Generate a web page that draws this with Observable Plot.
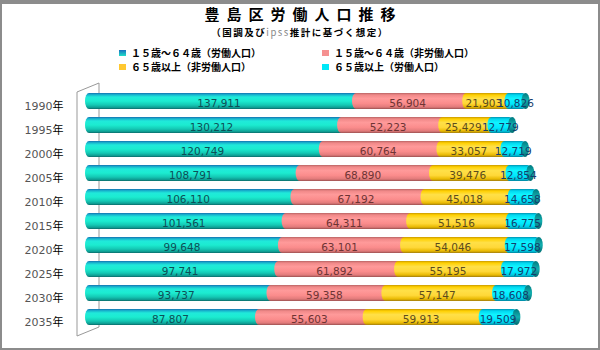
<!DOCTYPE html>
<html><head><meta charset="utf-8">
<script src="https://cdn.jsdelivr.net/npm/d3@7"></script>
<script src="https://cdn.jsdelivr.net/npm/@observablehq/plot@0.6"></script>
<style>
body{margin:0;background:#fff;}
#wrap{position:relative;width:600px;height:350px;overflow:hidden;font-family:"Noto Sans CJK JP","Noto Sans",sans-serif;color:#000;}
#frame{position:absolute;left:0;top:0;width:600px;height:350px;box-sizing:border-box;border-style:solid;border-color:#8c8c8c;border-width:4px 2px 2px 2px;pointer-events:none;}
#head{position:relative;height:76px;}
.title{position:absolute;top:6px;left:0;width:600px;text-align:center;font-size:15px;font-weight:bold;letter-spacing:7px;padding-left:7px;box-sizing:border-box;line-height:16px;}
.sub{position:absolute;top:26.5px;left:0;width:600px;text-align:center;font-size:9.5px;font-weight:bold;letter-spacing:1.5px;line-height:11px;}
.sub .ip{color:#888;font-weight:normal;}
.leg{position:absolute;font-size:10px;font-weight:bold;line-height:12px;display:flex;align-items:center;white-space:nowrap;}
.sw{width:7px;height:6px;margin-right:5px;}
</style>
</head>
<body>
<div id="wrap">
  <div id="head">
    <div class="title" id="title"></div>
    <div class="sub" id="sub"></div>
    <div id="legend"></div>
  </div>
  <div id="chart"></div>
  <div id="frame"></div>
</div>
<script>
// ---- data ----
const titleText = "豊島区労働人口推移";
const subtitleParts = ["（国調及び", "ipss", "推計に基づく想定）"];
const years = ["1990","1995","2000","2005","2010","2015","2020","2025","2030","2035"];
const seriesNames = ["１５歳～６４歳（労働人口）","１５歳～６４歳（非労働人口）","６５歳以上（非労働人口）","６５歳以上（労働人口）"];
const labor1564    = [137911,130212,120749,108791,106110,101561,99648,97741,93737,87807];
const nonlabor1564 = [56904,52223,60764,68890,67192,64311,63101,61892,59358,55603];
const nonlabor65   = [21903,25429,33057,39476,45018,51516,54046,55195,57147,59913];
const labor65      = [10826,12779,12719,12854,14658,16775,17598,17972,18608,19509];
const yearSuffix = "年";

// ---- styles ----
const gradIds = ["gTeal","gPink","gYellow","gCyan"];
const labelColors = ["#0d4f57","#6e3434","#5c4c1c","#123e6e"];
const legendSwatch = [
  "linear-gradient(#1a6fc0,#1fe0c8)",
  "#f59090",
  "#ffc830",
  "#00e8f8"
];

// ---- header ----
document.getElementById("title").textContent = titleText;
const sub = document.getElementById("sub");
sub.innerHTML = "";
subtitleParts.forEach((t,i)=>{const s=document.createElement("span"); s.textContent=t; if(i===1) s.className="ip"; sub.appendChild(s);});
const legPos = [[119,47],[322,47],[119,61],[322,61]];
const leg = document.getElementById("legend");
seriesNames.forEach((n,i)=>{
  const d = document.createElement("div");
  d.className="leg"; d.style.left=legPos[i][0]+"px"; d.style.top=legPos[i][1]+"px";
  const sw=document.createElement("span"); sw.className="sw"; sw.style.background=legendSwatch[i];
  const tx=document.createElement("span"); tx.textContent=n;
  d.appendChild(sw); d.appendChild(tx); leg.appendChild(d);
});

// ---- table ----
const segs = [];
const totals = [];
years.forEach((yr,i)=>{
  const vals=[labor1564[i],nonlabor1564[i],nonlabor65[i],labor65[i]];
  let acc=0;
  vals.forEach((v,k)=>{segs.push({year:yr,series:k,x1:acc,x2:acc+v,value:v});acc+=v;});
  totals.push({year:yr,total:acc});
});

const defsMark = () => {
  const g = document.createElementNS("http://www.w3.org/2000/svg","defs");
  g.innerHTML = `
  <linearGradient id="gTeal" x1="0" y1="0" x2="0" y2="1">
    <stop offset="0" stop-color="#1570b0"/><stop offset="0.1" stop-color="#18b0cc"/>
    <stop offset="0.25" stop-color="#20eada"/><stop offset="0.5" stop-color="#1cecd0"/>
    <stop offset="0.75" stop-color="#14c8b4"/><stop offset="0.92" stop-color="#0e9a90"/>
    <stop offset="1" stop-color="#0a6868"/></linearGradient>
  <linearGradient id="gPink" x1="0" y1="0" x2="0" y2="1">
    <stop offset="0" stop-color="#b86464"/><stop offset="0.12" stop-color="#f08888"/>
    <stop offset="0.35" stop-color="#ff9a9a"/><stop offset="0.65" stop-color="#fb8c8c"/>
    <stop offset="0.88" stop-color="#e07a7a"/><stop offset="1" stop-color="#9a5050"/></linearGradient>
  <linearGradient id="gYellow" x1="0" y1="0" x2="0" y2="1">
    <stop offset="0" stop-color="#c89800"/><stop offset="0.12" stop-color="#ffd000"/>
    <stop offset="0.35" stop-color="#ffe048"/><stop offset="0.65" stop-color="#ffd838"/>
    <stop offset="0.88" stop-color="#e8b800"/><stop offset="1" stop-color="#a07c10"/></linearGradient>
  <linearGradient id="gCyan" x1="0" y1="0" x2="0" y2="1">
    <stop offset="0" stop-color="#0090b0"/><stop offset="0.12" stop-color="#00d8f0"/>
    <stop offset="0.35" stop-color="#10f4ff"/><stop offset="0.65" stop-color="#00eaff"/>
    <stop offset="0.88" stop-color="#00c8e0"/><stop offset="1" stop-color="#007f9a"/></linearGradient>
  <linearGradient id="gCap" x1="0" y1="0" x2="0" y2="1">
    <stop offset="0" stop-color="#007a80"/><stop offset="0.5" stop-color="#12b0b0"/>
    <stop offset="1" stop-color="#006a70"/></linearGradient>`;
  return g;
};

const wallMark = (index, scales, values, dims) => {
  const x0 = scales.x(0);
  const mt = dims.marginTop, hb = dims.height - dims.marginBottom;
  const p = document.createElementNS("http://www.w3.org/2000/svg","path");
  const bx = x0+14, fx = x0-8;
  p.setAttribute("d",`M${bx},${mt}V${hb-8}M${fx},${mt+9}V${hb+1}M${fx},${mt+9}L${bx},${mt}M${fx},${hb+1}L${bx},${hb-8}`);
  p.setAttribute("stroke","#999"); p.setAttribute("fill","none"); p.setAttribute("stroke-width","1");
  return p;
};

const marks = [defsMark, wallMark];
[0,1,2].forEach(k=>{
  marks.push(Plot.barX(segs.filter(d=>d.series===k),{x1:"x1",x2:"x2",y:"year",fill:`url(#${gradIds[k]})`,insetRight:-8,rx:4,ry:8}));
});
marks.push(Plot.barX(segs.filter(d=>d.series===3),{x1:"x1",x2:"x2",y:"year",fill:`url(#${gradIds[3]})`,insetRight:-1,rx:4,ry:8}));
marks.push(Plot.barX(totals,{x1:"total",x2:"total",y:"year",fill:"url(#gCap)",insetLeft:-4,insetRight:-4,rx:4,ry:8}));
[0,1,2,3].forEach(k=>{
  marks.push(Plot.text(segs.filter(d=>d.series===k),{x:d=>(d.x1+d.x2)/2,y:"year",text:d=>d3.format(",")(d.value),fill:labelColors[k],fontSize:10.5,dy:2,fontFamily:"DejaVu Sans"}));
});
marks.push(Plot.text(years,{y:d=>d,text:d=>d,frameAnchor:"left",dx:-33,dy:5,textAnchor:"end",fill:"#555",fontSize:11,fontFamily:"DejaVu Sans"}));
marks.push(Plot.text(years,{y:d=>d,text:()=>yearSuffix,frameAnchor:"left",dx:-33,dy:5,textAnchor:"start",fill:"#000",fontSize:11,fontFamily:"Noto Sans CJK JP"}));

const chart = Plot.plot({
  width:600, height:274,
  marginLeft:85, marginRight:31, marginTop:7, marginBottom:15,
  x:{axis:null, domain:[0,250000]},
  y:{axis:null, domain:years, padding:0.345},
  style:{background:"transparent", overflow:"visible"},
  marks
});
document.getElementById("chart").appendChild(chart);
</script>
</body></html>
